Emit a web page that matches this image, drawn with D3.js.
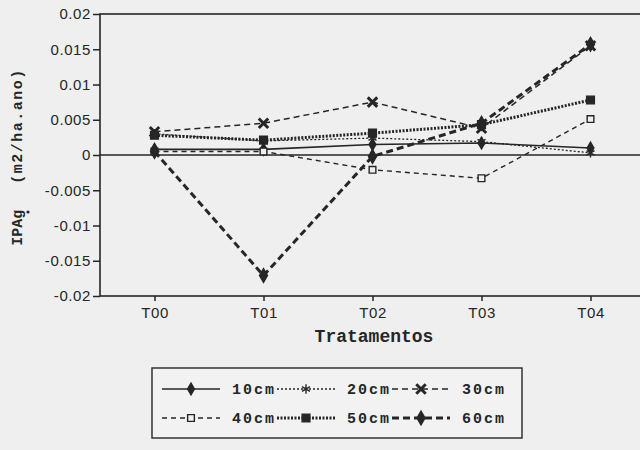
<!DOCTYPE html>
<html><head><meta charset="utf-8">
<script src="https://cdn.jsdelivr.net/npm/d3@7"></script>
<style>
html,body{margin:0;padding:0;background:#efefef;}
svg{display:block;}
</style></head>
<body>
<svg id="chart" width="640" height="450"></svg>
<script>
const categories = ["T00","T01","T02","T03","T04"];
const seriesNames = ["10cm","20cm","30cm","40cm","50cm","60cm"];
const s10 = [0.0008, 0.0008, 0.0015, 0.0017, 0.0010];
const s20 = [0.0030, 0.0020, 0.0024, 0.0019, 0.0003];
const s30 = [0.0033, 0.0045, 0.0075, 0.0038, 0.0155];
const s40 = [0.0005, 0.0005, -0.0021, -0.0033, 0.0051];
const s50 = [0.0028, 0.0021, 0.0031, 0.0043, 0.0078];
const s60 = [0.0005, -0.0171, -0.0002, 0.0045, 0.0157];
const yTickValues = [0.02, 0.015, 0.01, 0.005, 0, -0.005, -0.01, -0.015, -0.02];
const yTickLabels = ["0.02","0.015","0.01","0.005","0","-0.005","-0.01","-0.015","-0.02"];
const xTitle = "Tratamentos";
const yTitleA = "IPAg";
const yTitleB = "(m2/ha.ano)";

const values = [s10, s20, s30, s40, s50, s60];
const ink = "#262626";
const styles = [
  {dash:null, w:1.6, sym:d3.symbolDiamond, size:40, fill:true},
  {dash:"2,2", w:1.3, sym:d3.symbolAsterisk, size:60, fill:false},
  {dash:"6,4", w:1.5, sym:d3.symbolX, size:60, fill:false, sw:3},
  {dash:"5,4", w:1.4, sym:d3.symbolSquare, size:45, fill:false},
  {dash:"2,1.5", w:3, sym:d3.symbolSquare, size:60, fill:true},
  {dash:"7,4", w:3, sym:d3.symbolDiamond, size:55, fill:true}
];

const svg = d3.select("#chart");
const L = 100, R = 645, T = 14, B = 296;
const x = d3.scalePoint().domain(categories).range([L, R]).padding(0.5);
const y = d3.scaleLinear().domain([-0.02, 0.02]).range([B, T]);

// frame
svg.append("rect").attr("x", L).attr("y", T).attr("width", R - L).attr("height", B - T)
  .attr("fill", "none").attr("stroke", ink).attr("stroke-width", 1.6);
// zero line
svg.append("line").attr("x1", L).attr("x2", R).attr("y1", y(0)).attr("y2", y(0))
  .attr("stroke", ink).attr("stroke-width", 1.6);

// y axis
const yAxis = d3.axisLeft(y).tickValues(yTickValues)
  .tickFormat((d, i) => yTickLabels[i]).tickSize(7).tickPadding(2);
const gy = svg.append("g").attr("transform", `translate(${L},0)`).call(yAxis);
gy.select(".domain").remove();
gy.selectAll("line").attr("stroke", ink).attr("stroke-width", 1.5);
gy.selectAll("text").attr("fill", ink).style("font-family", "'Liberation Sans', Arial, sans-serif")
  .style("font-size", "15px").style("letter-spacing", "0.6px");

// x axis
const xAxis = d3.axisBottom(x).tickSize(5).tickPadding(6);
const gx = svg.append("g").attr("transform", `translate(0,${B})`).call(xAxis);
gx.select(".domain").remove();
gx.selectAll("line").attr("stroke", ink).attr("stroke-width", 1.5);
gx.selectAll("text").attr("fill", ink).style("font-family", "'Liberation Sans', Arial, sans-serif")
  .style("font-size", "15px").style("letter-spacing", "0.6px");

// titles
svg.append("text").attr("x", 374).attr("y", 342).attr("text-anchor", "middle")
  .attr("fill", ink).style("font-family", "'Liberation Mono', 'Courier New', monospace")
  .style("font-size", "18px").style("font-weight", "bold").text(xTitle);
const yt = svg.append("text").attr("transform", `translate(22,157) rotate(-90)`).attr("text-anchor", "middle")
  .attr("fill", ink).style("font-family", "'Liberation Mono', 'Courier New', monospace")
  .style("font-size", "15px").style("font-weight", "bold");
yt.append("tspan").text(yTitleA);
yt.append("tspan").attr("dx", 26).style("letter-spacing", "1.5px").text(yTitleB);
svg.append("circle").attr("cx", 28).attr("cy", 212).attr("r", 1.6).attr("fill", ink);

// series
const line = d3.line().x((d, i) => x(categories[i])).y(d => y(d));
values.forEach((vals, k) => {
  const st = styles[k];
  svg.append("path").datum(vals).attr("d", line).attr("fill", "none")
    .attr("stroke", ink).attr("stroke-width", st.w)
    .attr("stroke-dasharray", st.dash);
  svg.append("g").selectAll("path").data(vals).join("path")
    .attr("transform", (d, i) => `translate(${x(categories[i])},${y(d)})`)
    .attr("d", d3.symbol().type(st.sym).size(st.size))
    .attr("fill", st.fill ? ink : (st.sym === d3.symbolSquare ? "#efefef" : "none"))
    .attr("stroke", ink).attr("stroke-width", st.sw || 1.4);
});

// legend
const lg = svg.append("g");
lg.append("rect").attr("x", 152).attr("y", 368).attr("width", 370).attr("height", 70)
  .attr("fill", "#f2f2f2").attr("stroke", ink).attr("stroke-width", 1.4);
seriesNames.forEach((name, k) => {
  const st = styles[k];
  const col = k % 3, row = Math.floor(k / 3);
  const x0 = 162 + col * 115, yy = 389 + row * 29;
  lg.append("line").attr("x1", x0).attr("x2", x0 + 58).attr("y1", yy).attr("y2", yy)
    .attr("stroke", ink).attr("stroke-width", st.w).attr("stroke-dasharray", st.dash);
  lg.append("path").attr("transform", `translate(${x0 + 29},${yy})`)
    .attr("d", d3.symbol().type(st.sym).size(st.size))
    .attr("fill", st.fill ? ink : (st.sym === d3.symbolSquare ? "#f2f2f2" : "none"))
    .attr("stroke", ink).attr("stroke-width", st.sw || 1.4);
  lg.append("text").attr("x", x0 + 70).attr("y", yy + 5).attr("fill", ink)
    .style("font-family", "'Liberation Mono', 'Courier New', monospace")
    .style("font-size", "15px").style("font-weight", "bold").style("letter-spacing", "2px")
    .text(name);
});
</script>
</body></html>
